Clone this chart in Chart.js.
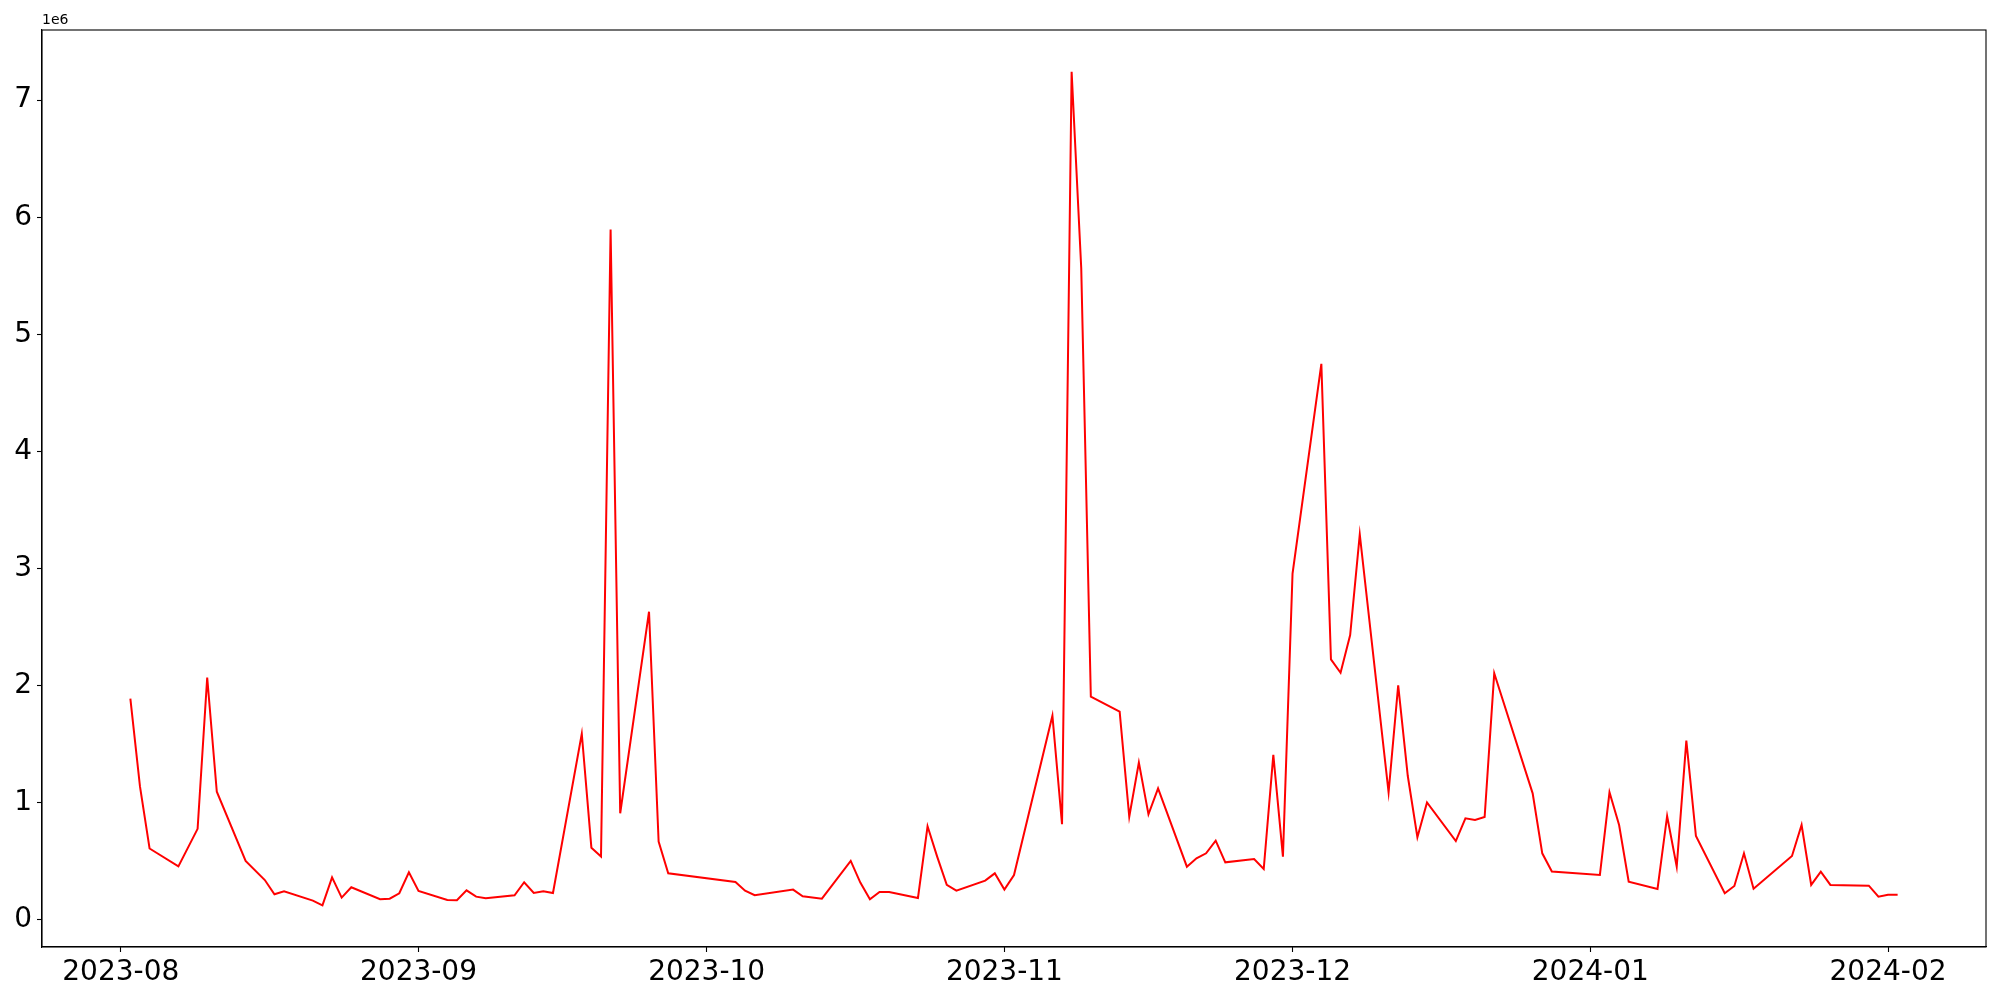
<!DOCTYPE html>
<html>
<head>
<meta charset="utf-8">
<script src="https://cdn.jsdelivr.net/npm/chart.js@4.4.0/dist/chart.umd.min.js"></script>
<style>
  html, body { margin: 0; padding: 0; background: #fff; }
  canvas { display: block; }
</style>
</head>
<body>
<canvas id="chart" width="2000" height="1000"></canvas>
<script>
var dates = [
  '2023-08-02', '2023-08-03', '2023-08-04', '2023-08-07', '2023-08-09', '2023-08-10', '2023-08-11',
  '2023-08-14', '2023-08-16', '2023-08-17', '2023-08-18', '2023-08-21', '2023-08-22', '2023-08-23',
  '2023-08-24', '2023-08-25', '2023-08-28', '2023-08-29', '2023-08-30', '2023-08-31', '2023-09-01',
  '2023-09-04', '2023-09-05', '2023-09-06', '2023-09-07', '2023-09-08', '2023-09-11', '2023-09-12',
  '2023-09-13', '2023-09-14', '2023-09-15', '2023-09-18', '2023-09-19', '2023-09-20', '2023-09-21',
  '2023-09-22', '2023-09-25', '2023-09-26', '2023-09-27', '2023-10-04', '2023-10-05', '2023-10-06',
  '2023-10-10', '2023-10-11', '2023-10-13', '2023-10-16', '2023-10-17', '2023-10-18', '2023-10-19',
  '2023-10-20', '2023-10-23', '2023-10-24', '2023-10-25', '2023-10-26', '2023-10-27', '2023-10-30',
  '2023-10-31', '2023-11-01', '2023-11-02', '2023-11-06', '2023-11-07', '2023-11-08', '2023-11-09',
  '2023-11-10', '2023-11-13', '2023-11-14', '2023-11-15', '2023-11-16', '2023-11-17', '2023-11-20',
  '2023-11-21', '2023-11-22', '2023-11-23', '2023-11-24', '2023-11-27', '2023-11-28', '2023-11-29',
  '2023-11-30', '2023-12-01', '2023-12-04', '2023-12-05', '2023-12-06', '2023-12-07', '2023-12-08',
  '2023-12-11', '2023-12-12', '2023-12-13', '2023-12-14', '2023-12-15', '2023-12-18', '2023-12-19',
  '2023-12-20', '2023-12-21', '2023-12-22', '2023-12-26', '2023-12-27', '2023-12-28', '2024-01-02',
  '2024-01-03', '2024-01-04', '2024-01-05', '2024-01-08', '2024-01-09', '2024-01-10', '2024-01-11',
  '2024-01-12', '2024-01-15', '2024-01-16', '2024-01-17', '2024-01-18', '2024-01-22', '2024-01-23',
  '2024-01-24', '2024-01-25', '2024-01-26', '2024-01-30', '2024-01-31', '2024-02-01', '2024-02-02'
];

// values in millions
var volumes = [
  1.89, 1.14, 0.61, 0.457, 0.778, 2.07, 1.095,
  0.504, 0.341, 0.219, 0.245, 0.165, 0.125, 0.364,
  0.191, 0.279, 0.177, 0.182, 0.228, 0.407, 0.248,
  0.171, 0.168, 0.253, 0.199, 0.185, 0.211, 0.322,
  0.23, 0.245, 0.23, 1.59, 0.617, 0.541, 5.895,
  0.911, 2.632, 0.669, 0.398, 0.324, 0.25, 0.211,
  0.259, 0.202, 0.182, 0.504, 0.319, 0.177, 0.239,
  0.239, 0.188, 0.80, 0.541, 0.299, 0.25, 0.336,
  0.398, 0.259, 0.384, 1.744, 0.817, 7.243, 5.567,
  1.906, 1.778, 0.882, 1.343, 0.902, 1.124, 0.455,
  0.527, 0.569, 0.677, 0.492, 0.521, 0.435, 1.409,
  0.541, 2.958, 4.748, 2.225, 2.111, 2.433, 3.292,
  1.09, 2.003, 1.229, 0.706, 1.004, 0.674, 0.868,
  0.854, 0.879, 2.106, 1.081, 0.569, 0.413, 0.384,
  1.09, 0.811, 0.327, 0.265, 0.888, 0.455, 1.531,
  0.717, 0.228, 0.29, 0.569, 0.267, 0.546, 0.811,
  0.299, 0.413, 0.299, 0.293, 0.199, 0.216, 0.216
];

var monthTicks = ['2023-08', '2023-09', '2023-10', '2023-11', '2023-12', '2024-01', '2024-02'];
var yTicks = [0, 1, 2, 3, 4, 5, 6, 7];

var DAY = 86400000;
function toDay(s) {
  var p = s.split('-');
  return Date.UTC(+p[0], +p[1] - 1, p[2] ? +p[2] : 1) / DAY;
}

var points = dates.map(function(d, i) {
  return { x: toDay(d), y: volumes[i] * 1e6 };
});

var xs = points.map(function(p) { return p.x; });
var ys = points.map(function(p) { return p.y; });
var xMin = Math.min.apply(null, xs), xMax = Math.max.apply(null, xs);
var yMin = Math.min.apply(null, ys), yMax = Math.max.apply(null, ys);
var xPad = (xMax - xMin) * 0.05, yPad = (yMax - yMin) * 0.05;

var tickLabelByDay = {};
monthTicks.forEach(function(m) { tickLabelByDay[toDay(m)] = m; });

var font = { family: 'DejaVu Sans', size: 28 };

var frame = {
  id: 'frame',
  afterDraw: function(chart) {
    var a = chart.chartArea, ctx = chart.ctx;
    ctx.save();
    ctx.strokeStyle = '#000';
    ctx.lineWidth = 1.1;
    ctx.strokeRect(a.left, a.top, a.right - a.left, a.bottom - a.top);
    ctx.fillStyle = '#000';
    ctx.font = '14px "DejaVu Sans"';
    ctx.textAlign = 'left';
    ctx.textBaseline = 'bottom';
    ctx.fillText('1e6', a.left, a.top - 3);
    ctx.restore();
  }
};

new Chart(document.getElementById('chart').getContext('2d'), {
  type: 'line',
  data: {
    datasets: [{
      data: points,
      borderColor: '#ff0000',
      borderWidth: 2,
      pointRadius: 0,
      tension: 0,
      fill: false
    }]
  },
  options: {
    responsive: false,
    animation: false,
    layout: { padding: { top: 30, right: 14, left: 0, bottom: 0 } },
    plugins: { legend: { display: false }, tooltip: { enabled: false } },
    scales: {
      x: {
        type: 'linear',
        min: xMin - xPad,
        max: xMax + xPad,
        afterBuildTicks: function(scale) {
          scale.ticks = monthTicks.map(function(m) { return { value: toDay(m) }; });
        },
        afterFit: function(scale) { scale.height = 53; },
        grid: { drawOnChartArea: false, tickLength: 5, tickColor: '#000', tickWidth: 1.1 },
        border: { display: true, color: '#000', width: 1.1 },
        ticks: {
          color: '#000',
          font: font,
          padding: 4,
          maxRotation: 0,
          autoSkip: false,
          callback: function(v) { return tickLabelByDay[v] || ''; }
        }
      },
      y: {
        type: 'linear',
        min: yMin - yPad,
        max: yMax + yPad,
        afterBuildTicks: function(scale) {
          scale.ticks = yTicks.map(function(t) { return { value: t * 1e6 }; });
        },
        afterFit: function(scale) { scale.width = 42; },
        grid: { drawOnChartArea: false, tickLength: 5, tickColor: '#000', tickWidth: 1.1 },
        border: { display: true, color: '#000', width: 1.1 },
        ticks: {
          color: '#000',
          font: font,
          padding: 5,
          callback: function(v) { return String(Math.round(v / 1e6)); }
        }
      }
    }
  },
  plugins: [frame]
});
</script>
</body>
</html>
